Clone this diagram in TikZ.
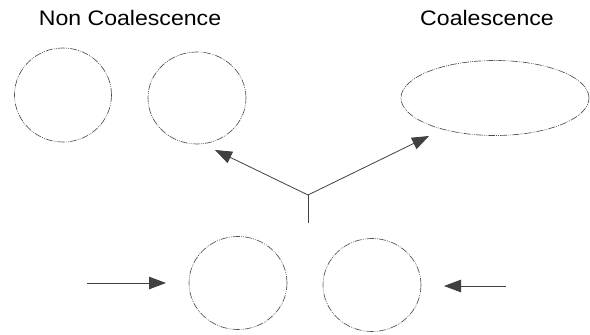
\documentclass[tikz,border=0pt]{standalone}
\usepackage{fontspec}
\setmainfont{Liberation Sans}
\usetikzlibrary{shapes.geometric,arrows.meta}
\begin{document}
\begin{tikzpicture}[x=1pt,y=-1pt,
  drop/.style={ellipse,draw=black!70,line width=0.65pt,
    dash pattern=on 7pt off 1.2pt on 0.8pt off 1.2pt on 0.8pt off 1.2pt,inner sep=0pt},
  flow/.style={draw=black!75,line width=0.8pt,-{Triangle[length=17pt,width=12.5pt]}},
  stem/.style={draw=black!75,line width=0.8pt},
  lbl/.style={font=\fontsize{21}{24}\selectfont,inner sep=0pt}]
\useasboundingbox (0,0) rectangle (590,335);
\node[lbl,xscale=1.1] (t1) at (130,18) {Non Coalescence};
\node[lbl,xscale=1.1] (t2) at (487,18) {Coalescence};
\node[drop,minimum width=97pt,minimum height=94pt] (c1) at (63,95) {};
\node[drop,minimum width=98pt,minimum height=92pt] (c2) at (197,98) {};
\node[drop,minimum width=188pt,minimum height=75pt] (e1) at (495,98) {};
\node[drop,minimum width=98pt,minimum height=93pt] (c3) at (238,283) {};
\node[drop,minimum width=98pt,minimum height=93pt] (c4) at (372,285) {};
\coordinate (j) at (308,195);
\coordinate (jb) at (308,223);
\coordinate (t1tip) at (215,150);
\coordinate (t2tip) at (429,136);
\coordinate (la) at (87,283);
\coordinate (lb) at (166,283);
\coordinate (ra) at (506,286);
\coordinate (rb) at (444,286);
\draw[stem] (jb) -- (j);
\draw[flow] (j) -- (t1tip);
\draw[flow] (j) -- (t2tip);
\draw[flow] (la) -- (lb);
\draw[flow] (ra) -- (rb);
\end{tikzpicture}
\end{document}
